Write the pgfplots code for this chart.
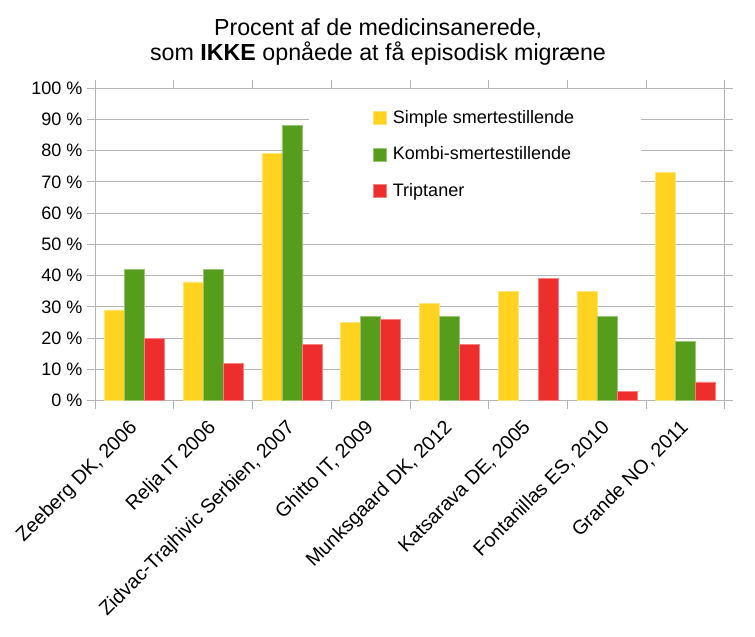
\documentclass[border=0pt]{standalone}
\usepackage{pgfplots}
\pgfplotsset{compat=1.18}
\usepackage{fontspec}
\setmainfont{Liberation Sans}
\definecolor{cyel}{HTML}{FFD320}
\definecolor{cgrn}{HTML}{579D1C}
\definecolor{cred}{RGB}{238,45,45}
\definecolor{cgrid}{HTML}{B3B3B3}
\pgfplotsset{mylegend/.style={legend image code/.code={\fill[##1] (0pt,-4.9pt) rectangle (9.75pt,4.9pt); \path (12.5pt,0pt);}}}
\begin{document}
\begin{tikzpicture}
\useasboundingbox (-71.25pt,-177pt) rectangle (494.25pt,300pt);
\begin{axis}[at={(0pt,0pt)}, anchor=south west, scale only axis,
  width=471.75pt, height=234pt,
  ybar=0pt, bar width=15pt,
  xmin=-0.5, xmax=7.5, ymin=0, ymax=100,
  xtick={0,...,7},
  xticklabels={{Zeeberg DK, 2006},{Relja IT 2006},{Zidvac-Trajhivic Serbien, 2007},{Ghitto IT, 2009},{Munksgaard DK, 2012},{Katsarava DE, 2005},{Fontanillas ES, 2010},{Grande NO, 2011}},
  minor xtick={-0.5,0.5,...,7.5},
  tick align=outside,
  major tick length=6pt, minor tick length=6pt,
  tick style={cgrid, line width=0.75pt},
  major x tick style={draw=none},
  ytick={0,10,...,100},
  yticklabels={0 \%,10 \%,20 \%,30 \%,40 \%,50 \%,60 \%,70 \%,80 \%,90 \%,100 \%},
  ymajorgrids, grid style={cgrid, line width=0.75pt},
  axis line style={cgrid, line width=0.75pt},
  yticklabel style={font=\fontsize{13.5}{16}\selectfont},
  xticklabel style={xshift=-5pt, rotate=45, anchor=north east, font=\fontsize{14.8}{17}\selectfont},
  xticklabel shift=2.5pt,
  legend cell align=left,
  legend style={at={(0.603,0.788)}, anchor=center, draw=none, fill=white,
    inner xsep=48pt, inner ysep=12pt, /tikz/row sep=12pt,
    font=\fontsize{13.5}{16}\selectfont},
]
\addplot[fill=cyel, draw=cyel!60!white, line width=0.4pt, mylegend] coordinates {(0,29) (1,38) (2,79) (3,25) (4,31) (5,35) (6,35) (7,73)};
\addlegendentry{Simple smertestillende}
\addplot[fill=cgrn, draw=cgrn!60!white, line width=0.4pt, mylegend] coordinates {(0,42) (1,42) (2,88) (3,27) (4,27) (6,27) (7,19)};
\addlegendentry{Kombi-smertestillende}
\addplot[fill=cred, draw=cred!60!white, line width=0.4pt, mylegend] coordinates {(0,20) (1,12) (2,18) (3,26) (4,18) (5,39) (6,3) (7,6)};
\addlegendentry{Triptaner}
\end{axis}
\node[anchor=base, font=\fontsize{17.4}{20}\selectfont] at (211.9pt,273.75pt) {Procent af de medicinsanerede,};
\node[anchor=base, font=\fontsize{17.4}{20}\selectfont] at (211.9pt,255pt) {som \textbf{IKKE} opnåede at få episodisk migræne};
\end{tikzpicture}
\end{document}
